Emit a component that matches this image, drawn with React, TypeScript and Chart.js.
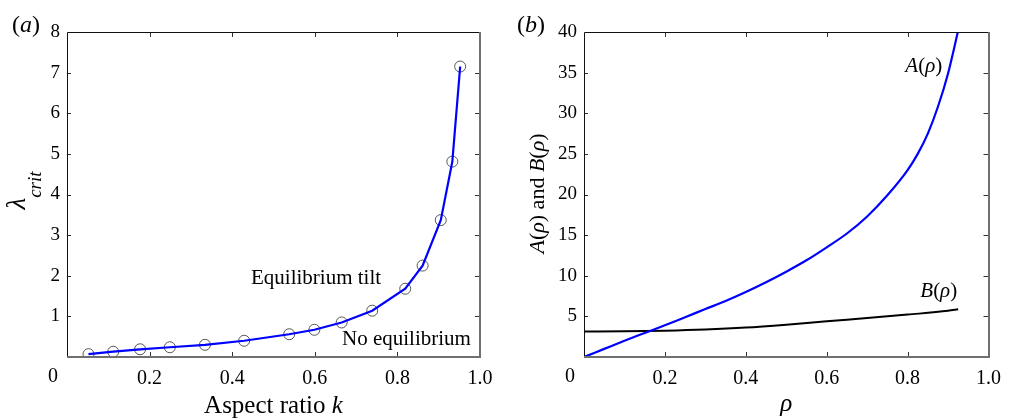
import React, { useEffect, useRef } from 'react';
import { Chart, registerables } from 'chart.js';

Chart.register(...registerables);

// ---------- data ----------
const kValues = [0.052, 0.112, 0.177, 0.249, 0.334, 0.429, 0.538, 0.599, 0.665, 0.739, 0.819, 0.861, 0.905, 0.933, 0.952];
const lambdaCrit = [0.07, 0.13, 0.19, 0.24, 0.3, 0.4, 0.56, 0.67, 0.85, 1.14, 1.68, 2.25, 3.37, 4.81, 7.15];

const rhoA = [0, 0.05, 0.1, 0.15, 0.2, 0.25, 0.3, 0.35, 0.4, 0.45, 0.5, 0.55, 0.6, 0.65, 0.7, 0.75, 0.8, 0.825, 0.85, 0.875, 0.9, 0.915, 0.93];
const aValues = [0, 1.0, 2.0, 2.95, 3.9, 4.9, 5.9, 6.9, 8.0, 9.2, 10.5, 11.9, 13.5, 15.2, 17.3, 19.9, 23.0, 25.0, 27.5, 30.8, 34.9, 38.0, 41.3];

const rhoB = [0, 0.1, 0.2, 0.3, 0.4, 0.5, 0.6, 0.7, 0.8, 0.9, 0.925];
const bValues = [3.14, 3.17, 3.24, 3.38, 3.62, 3.98, 4.4, 4.8, 5.22, 5.68, 5.87];

const xTickStep = 0.2;
const leftYMax = 8;
const leftYStep = 1;
const rightYMax = 40;
const rightYStep = 5;

const SERIF = "'Liberation Serif', 'Times New Roman', serif";
const fnt = (size: number, italic = false) => `${italic ? 'italic ' : ''}${size}px ${SERIF}`;

type Run = { t: string; f: string; dy?: number };

function drawRuns(ctx: CanvasRenderingContext2D, runs: Run[], x: number, y: number, align: 'left' | 'center') {
  let total = 0;
  for (const r of runs) {
    ctx.font = r.f;
    total += ctx.measureText(r.t).width;
  }
  let cx = align === 'center' ? x - total / 2 : x;
  ctx.textAlign = 'left';
  ctx.textBaseline = 'alphabetic';
  for (const r of runs) {
    ctx.font = r.f;
    ctx.fillText(r.t, cx, y + (r.dy || 0));
    cx += ctx.measureText(r.t).width;
  }
}

function framePlugin(extra: (chart: any, ctx: CanvasRenderingContext2D) => void) {
  return {
    id: 'frameAndText',
    afterDraw(chart: any) {
      const ctx: CanvasRenderingContext2D = chart.ctx;
      const { left, right, top, bottom } = chart.chartArea;
      const xs = chart.scales.x;
      const ys = chart.scales.y;
      ctx.save();
      // inward ticks
      ctx.strokeStyle = '#333';
      ctx.lineWidth = 1;
      ctx.beginPath();
      xs.ticks.forEach((t: any) => {
        if (t.value <= xs.min + 1e-9 || t.value >= xs.max - 1e-9) return;
        const px = Math.round(xs.getPixelForValue(t.value)) + 0.5;
        ctx.moveTo(px, bottom);
        ctx.lineTo(px, bottom - 5);
        ctx.moveTo(px, top);
        ctx.lineTo(px, top + 5);
      });
      ys.ticks.forEach((t: any) => {
        if (t.value <= ys.min + 1e-9 || t.value >= ys.max - 1e-9) return;
        const py = Math.round(ys.getPixelForValue(t.value)) + 0.5;
        ctx.moveTo(left, py);
        ctx.lineTo(left + 4, py);
        ctx.moveTo(right, py);
        ctx.lineTo(right - 5, py);
      });
      ctx.stroke();
      // frame: top & left thin black
      ctx.strokeStyle = '#111';
      ctx.lineWidth = 1;
      ctx.beginPath();
      ctx.moveTo(Math.round(left) + 0.5, Math.round(bottom));
      ctx.lineTo(Math.round(left) + 0.5, Math.round(top) + 0.5);
      ctx.lineTo(Math.round(right), Math.round(top) + 0.5);
      ctx.stroke();
      // bottom & right grey, thicker
      ctx.strokeStyle = '#707070';
      ctx.lineWidth = 2;
      ctx.beginPath();
      ctx.moveTo(Math.round(left), Math.round(bottom));
      ctx.lineTo(Math.round(right), Math.round(bottom));
      ctx.lineTo(Math.round(right), Math.round(top));
      ctx.stroke();
      // "0" label, offset to the left of the origin
      ctx.fillStyle = '#000';
      ctx.font = fnt(20);
      ctx.textAlign = 'center';
      ctx.textBaseline = 'top';
      ctx.fillText('0', left - 14, bottom + 10);
      extra(chart, ctx);
      ctx.restore();
    },
  };
}

function makeOptions(yMax: number, yStep: number, padRight: number, areaLeft: number) {
  return {
    responsive: false,
    animation: false,
    events: [],
    layout: { padding: { top: 32, right: padRight, bottom: 0, left: 0 } },
    plugins: { legend: { display: false }, tooltip: { enabled: false }, title: { display: false } },
    scales: {
      x: {
        type: 'linear',
        min: 0,
        max: 1,
        afterFit: (s: any) => {
          s.height = 61;
        },
        grid: { display: false, drawTicks: false },
        border: { display: false },
        ticks: {
          stepSize: xTickStep,
          padding: 10,
          color: '#000',
          maxRotation: 0,
          autoSkip: false,
          font: { size: 20, family: SERIF },
          callback: (v: any) => (Math.abs(Number(v)) < 1e-9 ? '' : Number(v).toFixed(1)),
        },
      },
      y: {
        type: 'linear',
        min: 0,
        max: yMax,
        afterFit: (s: any) => {
          s.width = areaLeft;
        },
        grid: { display: false, drawTicks: false },
        border: { display: false },
        ticks: {
          stepSize: yStep,
          padding: 7,
          color: '#000',
          autoSkip: false,
          font: { size: 19, family: SERIF },
          callback: (v: any) => (Math.abs(Number(v)) < 1e-9 ? '' : String(v)),
        },
      },
    },
  };
}

export default function App() {
  const leftRef = useRef<HTMLCanvasElement>(null);
  const rightRef = useRef<HTMLCanvasElement>(null);

  useEffect(() => {
    if (!leftRef.current || !rightRef.current) return;

    const leftText = framePlugin((chart, ctx) => {
      const { left, right, top, bottom } = chart.chartArea;
      const xs = chart.scales.x;
      const ys = chart.scales.y;
      ctx.fillStyle = '#000';
      drawRuns(ctx, [{ t: '(', f: fnt(24) }, { t: 'a', f: fnt(24, true) }, { t: ')', f: fnt(24) }], 12, 32, 'left');
      drawRuns(ctx, [{ t: 'Aspect ratio ', f: fnt(25) }, { t: 'k', f: fnt(25, true) }], (left + right) / 2, 413, 'center');
      drawRuns(ctx, [{ t: 'Equilibrium tilt', f: fnt(21) }], xs.getPixelForValue(0.603), ys.getPixelForValue(1.79), 'center');
      drawRuns(ctx, [{ t: 'No equilibrium', f: fnt(21) }], xs.getPixelForValue(0.822), ys.getPixelForValue(0.295), 'center');
      ctx.save();
      ctx.translate(25, (top + bottom) / 2 - 4);
      ctx.rotate(-Math.PI / 2);
      drawRuns(ctx, [{ t: 'λ', f: fnt(27, true) }, { t: 'crit', f: fnt(19, true), dy: 16 }], 0, 0, 'center');
      ctx.restore();
    });

    const rightText = framePlugin((chart, ctx) => {
      const { left, right, top, bottom } = chart.chartArea;
      const xs = chart.scales.x;
      const ys = chart.scales.y;
      ctx.fillStyle = '#000';
      drawRuns(ctx, [{ t: '(', f: fnt(24) }, { t: 'b', f: fnt(24, true) }, { t: ')', f: fnt(24) }], 12, 32, 'left');
      drawRuns(ctx, [{ t: 'ρ', f: fnt(25, true) }], (left + right) / 2, 411, 'center');
      drawRuns(
        ctx,
        [{ t: 'A', f: fnt(21, true) }, { t: '(', f: fnt(21) }, { t: 'ρ', f: fnt(21, true) }, { t: ')', f: fnt(21) }],
        xs.getPixelForValue(0.84),
        ys.getPixelForValue(35.1),
        'center'
      );
      drawRuns(
        ctx,
        [{ t: 'B', f: fnt(21, true) }, { t: '(', f: fnt(21) }, { t: 'ρ', f: fnt(21, true) }, { t: ')', f: fnt(21) }],
        xs.getPixelForValue(0.877),
        ys.getPixelForValue(7.42),
        'center'
      );
      ctx.save();
      ctx.translate(39, (top + bottom) / 2 - 1);
      ctx.rotate(-Math.PI / 2);
      drawRuns(
        ctx,
        [
          { t: 'A', f: fnt(22, true) },
          { t: '(', f: fnt(22) },
          { t: 'ρ', f: fnt(22, true) },
          { t: ') and ', f: fnt(22) },
          { t: 'B', f: fnt(22, true) },
          { t: '(', f: fnt(22) },
          { t: 'ρ', f: fnt(22, true) },
          { t: ')', f: fnt(22) },
        ],
        0,
        0,
        'center'
      );
      ctx.restore();
    });

    const leftChart = new Chart(leftRef.current, {
      type: 'line',
      data: {
        datasets: [
          {
            label: 'model',
            data: kValues.map((k, i) => ({ x: k, y: lambdaCrit[i] })),
            borderColor: '#0000ff',
            borderWidth: 2.2,
            pointRadius: 0,
            tension: 0,
            fill: false,
          },
          {
            label: 'computed',
            data: kValues.map((k, i) => ({ x: k, y: lambdaCrit[i] })),
            showLine: false,
            pointRadius: 5.5,
            pointStyle: 'circle',
            pointBorderColor: '#555',
            pointBorderWidth: 1,
            pointBackgroundColor: 'rgba(0,0,0,0)',
          },
        ],
      },
      options: makeOptions(leftYMax, leftYStep, 25, 67) as any,
      plugins: [leftText],
    } as any);

    const rightChart = new Chart(rightRef.current, {
      type: 'line',
      data: {
        datasets: [
          {
            label: 'A',
            data: rhoA.map((r, i) => ({ x: r, y: aValues[i] })),
            borderColor: '#0000ff',
            borderWidth: 2.2,
            pointRadius: 0,
            cubicInterpolationMode: 'monotone',
            fill: false,
            clip: 0,
          },
          {
            label: 'B',
            data: rhoB.map((r, i) => ({ x: r, y: bValues[i] })),
            borderColor: '#000000',
            borderWidth: 2,
            pointRadius: 0,
            cubicInterpolationMode: 'monotone',
            fill: false,
          },
        ],
      },
      options: makeOptions(rightYMax, rightYStep, 14, 79) as any,
      plugins: [rightText],
    } as any);

    return () => {
      leftChart.destroy();
      rightChart.destroy();
    };
  }, []);

  return (
    <div style={{ position: 'fixed', left: 0, top: 0, width: 1011, height: 418, background: '#fff', overflow: 'hidden' }}>
      <canvas ref={leftRef} width={505} height={418} style={{ position: 'absolute', left: 0, top: 0, width: 505, height: 418 }} />
      <canvas ref={rightRef} width={506} height={418} style={{ position: 'absolute', left: 505, top: 0, width: 506, height: 418 }} />
    </div>
  );
}
